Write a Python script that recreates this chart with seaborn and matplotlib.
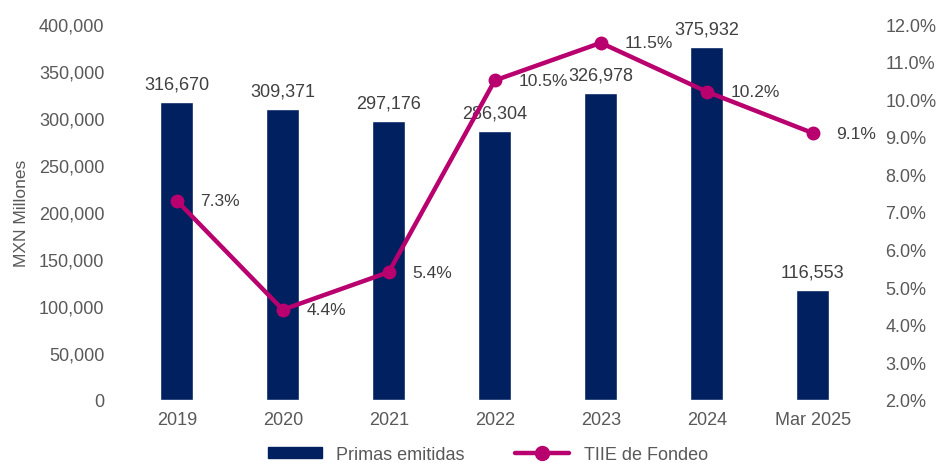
import pandas as pd
import seaborn as sns
import matplotlib.pyplot as plt
from matplotlib.patches import Patch
from matplotlib.lines import Line2D

years = ["2019", "2020", "2021", "2022", "2023", "2024", "Mar 2025"]
primas = [316670, 309371, 297176, 286304, 326978, 375932, 116553]
tiie = [7.3, 4.4, 5.4, 10.5, 11.5, 10.2, 9.1]

navy = "#002060"
magenta = "#B8006E"
grey = "#595959"
fs = 13

df = pd.DataFrame({"year": years, "primas": primas, "tiie": tiie})

sns.set_theme(style="white")
plt.rcParams["font.family"] = ["Liberation Sans", "DejaVu Sans"]

fig = plt.figure(figsize=(9.38, 4.64), dpi=100)
ax = fig.add_axes([0.132, 0.136, 0.791, 0.81])

sns.barplot(data=df, x="year", y="primas", color=navy, width=0.31, saturation=1, ax=ax)
ax.set_ylim(0, 400000)
ax.set_yticks(range(0, 400001, 50000))
ax.set_yticklabels([f"{v:,}" for v in range(0, 400001, 50000)])
ax.set_xlabel("")
ax.set_ylabel("MXN Millones", fontsize=fs - 0.5, color=grey, labelpad=7)
ax.tick_params(axis="both", length=0, labelsize=fs, labelcolor=grey)
ax.tick_params(axis="x", pad=8)
ax.tick_params(axis="y", pad=14)
for i, v in enumerate(primas):
    ax.text(i, v + 10000, f"{v:,}", ha="center", va="bottom", fontsize=fs, color="#404040")

ax2 = ax.twinx()
sns.lineplot(data=df, x="year", y="tiie", color=magenta, linewidth=3.2, marker="o",
             markersize=10, markeredgewidth=0, sort=False, ax=ax2)
ax2.set_ylim(2, 12)
ax2.set_yticks([2, 3, 4, 5, 6, 7, 8, 9, 10, 11, 12])
ax2.set_yticklabels([f"{v:.1f}%" for v in range(2, 13)])
ax2.set_ylabel("")
ax2.tick_params(axis="y", length=0, labelsize=fs, labelcolor=grey, pad=14)
for i, v in enumerate(tiie):
    ax2.annotate(f"{v}%", (i, v), xytext=(17, 0), textcoords="offset points",
                 ha="left", va="center", fontsize=fs - 0.5, color="#404040")

for a in (ax, ax2):
    for s in a.spines.values():
        s.set_visible(False)
ax.set_xlim(-0.5, 6.5)

handles = [Patch(color=navy), Line2D([0], [0], color=magenta, linewidth=3.2, marker="o", markersize=10)]
fig.legend(handles, ["Primas emitidas", "TIIE de Fondeo"], loc="lower center",
           bbox_to_anchor=(0.52, -0.035), ncol=2, frameon=False, fontsize=fs,
           handlelength=3, handleheight=0.55, columnspacing=2.8, labelcolor=grey)

plt.savefig("out.png", dpi=100)
